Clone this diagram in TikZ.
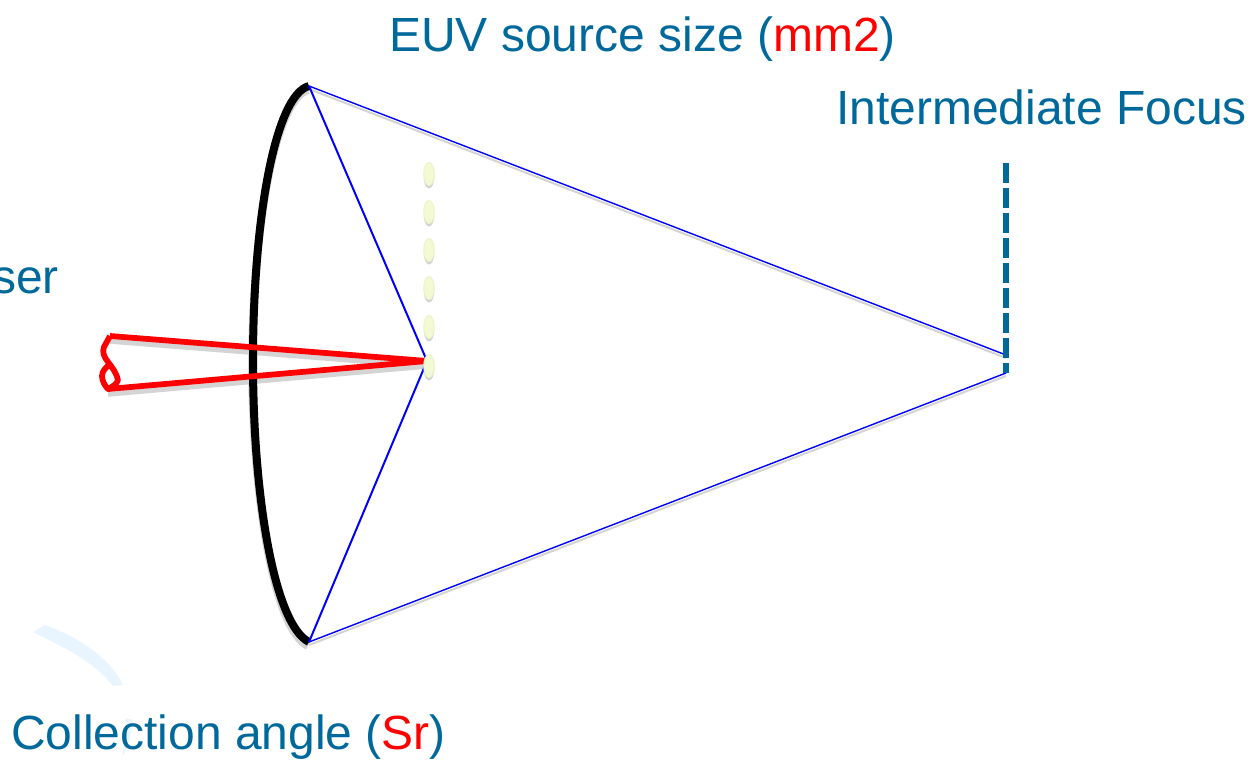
\documentclass[tikz,border=0pt]{standalone}
\usepackage{fontspec}
\setmainfont{Liberation Sans}
\usetikzlibrary{shapes.geometric}
\definecolor{labelblue}{HTML}{00699B}
\definecolor{shadowgray}{HTML}{D4D4D4}
\definecolor{dotfill}{HTML}{F3FAD3}
\definecolor{dotedge}{HTML}{EBF4C6}
\definecolor{wisp}{HTML}{E8F5FE}
\tikzset{
  px/.style={x=0.02cm,y=-0.02cm},
  lab/.style={inner sep=0pt,anchor=base west,text=labelblue,font=\fontsize{27.3}{30}\selectfont},
  ray/.style={draw=blue,line width=0.028cm},
  rayin/.style={draw=blue,line width=0.04cm},
  rayshadow/.style={draw=shadowgray,line width=0.04cm},
  beam/.style={draw=red,line width=0.115cm,line join=round},
  beamshadow/.style={draw=shadowgray,line width=0.11cm,line join=round},
  mirror/.style={draw=black,line width=0.16cm,line cap=butt},
  mirrorshadow/.style={draw=shadowgray,line width=0.16cm},
  dot/.style={ellipse,minimum width=0.21cm,minimum height=0.46cm,inner sep=0pt,fill=dotfill,draw=dotedge,line width=0.02cm},
  dotshadow/.style={ellipse,minimum width=0.21cm,minimum height=0.46cm,inner sep=0pt,fill=shadowgray},
  stopline/.style={draw=labelblue,line width=0.11cm,dash pattern=on 0.4cm off 0.1cm},
}
\begin{document}
\begin{tikzpicture}[px]
\useasboundingbox (0,0) rectangle (1258,763);
\fill[white] (0,0) rectangle (1258,763);
% faint background wisps
\fill[wisp] (33,632) -- (45,625) .. controls (80,638) and (110,658) .. (123,685) -- (113,686) .. controls (95,662) and (65,648) .. (33,632) -- cycle;
\fill[wisp] (125,718) -- (133,720) .. controls (131,735) and (128,748) .. (122,757) .. controls (125,745) and (126,730) .. (125,718) -- cycle;
% key points
\coordinate (mt) at (309,86);
\coordinate (mb) at (309,642);
\coordinate (mm) at (253,361);
\coordinate (src) at (427,361);
\coordinate (ift) at (1006,355);
\coordinate (ifb) at (1006,373);
\coordinate (stopt) at (1006,163);
\coordinate (beamt) at (110,336);
\coordinate (beamb) at (108,389);
% shadows
\draw[mirrorshadow] ([shift={(-1,4)}]mt) .. controls (275,100) and (253,225) .. ([shift={(-1,4)}]mm) .. controls (253,505) and (275,630) .. ([shift={(-1,4)}]mb);
\draw[rayshadow] ([shift={(0,3)}]mt) -- ([shift={(0,3)}]ift);
\draw[rayshadow] ([shift={(0,3)}]mb) -- ([shift={(0,3)}]ifb);
\draw[beamshadow] ([shift={(0,5)}]beamt) -- ([shift={(0,5)}]src) -- ([shift={(0,5)}]beamb);
% mirror
\draw[mirror] (mt) .. controls (275,95) and (253,220) .. (mm) .. controls (253,500) and (275,625) .. (mb);
% rays
\draw[rayin] (mt) -- (src);
\draw[rayin] (mb) -- (src);
\draw[ray] (mt) -- (ift);
\draw[ray] (mb) -- (ifb);
% laser beam
\draw[beam] (beamt) -- (src) -- (beamb);
\draw[beam] (beamt) -- (104,347) .. controls (102,352) and (104,357) .. (108,362)
  .. controls (112,367) and (117,374) .. (118,380)
  .. controls (117,384) and (112,387) .. (beamb)
  .. controls (105,386) and (102,381) .. (102,376)
  .. controls (102,372) and (105,368) .. (109,365);
% plasma droplets
\foreach \n/\y in {a/174,b/212,c/250,d/288,e/327,f/366}{
  \node[dotshadow] (s\n) at (429,\y+3) {};
  \node[dot] (d\n) at (429,\y) {};
}
% intermediate focus stop
\draw[stopline] (stopt) -- (ifb);
% labels
\node[lab] (t1) at (389,52) {EUV source size (\textcolor{red}{mm2})};
\node[lab] (t2) at (836,125) {Intermediate Focus};
\node[lab,anchor=base east] (t3) at (59,294) {ser};
\node[lab] (t4) at (11,749) {Collection angle (\textcolor{red}{Sr})};
\end{tikzpicture}
\end{document}
